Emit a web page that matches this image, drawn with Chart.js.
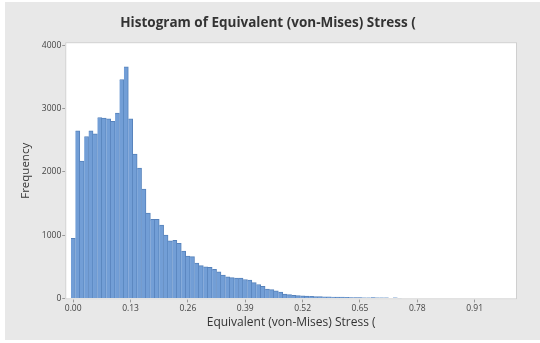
<!DOCTYPE html>
<html>
<head>
<meta charset="utf-8">
<script src="https://cdn.jsdelivr.net/npm/chart.js@4"></script>
<style>
    html, body { margin: 0; padding: 0; background: #ffffff; }
    #panel {
        position: absolute; left: 5px; top: 2px; width: 535px; height: 338px;
        background: #e8e8e8;
    }
    #wrap { position: absolute; left: 0; top: 0; width: 540px; height: 343px; }
</style>
</head>
<body>
<div id="panel"></div>
<div id="wrap"><canvas id="myChart" width="540" height="343"></canvas></div>
<script>

// bin midpoints (stress) and counts
const binMids = [
    0.00, 0.01, 0.02, 0.03, 0.04, 0.05, 0.06, 0.07, 0.08, 0.09,
    0.10, 0.11, 0.12, 0.13, 0.14, 0.15, 0.16, 0.17, 0.18, 0.19,
    0.20, 0.21, 0.22, 0.23, 0.24, 0.25, 0.26, 0.27, 0.28, 0.29,
    0.30, 0.31, 0.32, 0.33, 0.34, 0.35, 0.36, 0.37, 0.38, 0.39,
    0.40, 0.41, 0.42, 0.43, 0.44, 0.45, 0.46, 0.47, 0.48, 0.49,
    0.50, 0.51, 0.52, 0.53, 0.54, 0.55, 0.56, 0.57, 0.58, 0.59,
    0.60, 0.61, 0.62, 0.63, 0.64, 0.65, 0.66, 0.67, 0.68, 0.69,
    0.70, 0.71, 0.72, 0.73, 0.74
];

const frequency = [
    950, 2650, 2170, 2560, 2650, 2600, 2860, 2850, 2840, 2800,
    2930, 3460, 3660, 2840, 2280, 2060, 1730, 1350, 1250, 1250,
    1160, 1000, 910, 920, 870, 750, 670, 660, 560, 520,
    500, 490, 460, 420, 370, 340, 330, 320, 320, 300,
    290, 250, 220, 190, 150, 140, 120, 100, 70, 60,
    50, 45, 40, 38, 35, 30, 28, 25, 25, 22,
    20, 20, 18, 15, 15, 12, 10, 10, 12, 10,
    8, 10, 6, 8, 4
];

const xTicks = [0.00, 0.13, 0.26, 0.39, 0.52, 0.65, 0.78, 0.91];
const yTicks = [0, 1000, 2000, 3000, 4000];

const titleText = 'Histogram of Equivalent (von-Mises) Stress (';
const xTitle = 'Equivalent (von-Mises) Stress (';
const yTitle = 'Frequency';

// white plot area with a thin frame, like minitab
const plotFrame = {
    id: 'plotFrame',
    beforeDatasetsDraw(chart) {
        const {ctx, chartArea: a} = chart;
        ctx.save();
        ctx.fillStyle = '#ffffff';
        ctx.fillRect(a.left, a.top, a.right - a.left, a.bottom - a.top);
        ctx.restore();
    },
    afterDatasetsDraw(chart) {
        const {ctx, chartArea: a} = chart;
        ctx.save();
        ctx.strokeStyle = '#cfcfcf';
        ctx.lineWidth = 1;
        ctx.strokeRect(a.left + 0.5, a.top + 0.5, a.right - a.left - 1, a.bottom - a.top - 1);
        ctx.restore();
    }
};

const displayHistogram = () => {

    const points = binMids.map((m, i) => ({x: m, y: frequency[i]}));

    const config = {
        type: 'bar',
        data: {
            datasets: [{
                label: 'Frequency',
                data: points,
                backgroundColor: '#729ed6',
                borderColor: '#5682bb',
                borderWidth: {top: 1, right: 1, left: 0, bottom: 0},
                barPercentage: 1,
                categoryPercentage: 1
            }]
        },
        options: {
            responsive: false,
            animation: false,
            layout: {
                padding: {left: 19, right: 23, top: 0, bottom: 13}
            },
            plugins: {
                legend: {display: false},
                tooltip: {enabled: false},
                title: {
                    display: true,
                    text: titleText,
                    color: '#333333',
                    font: {family: 'Open Sans', size: 13.5, weight: 'bold'},
                    padding: {top: 15, bottom: 11}
                }
            },
            scales: {
                x: {
                    type: 'linear',
                    offset: false,
                    min: -0.018,
                    max: 1.006,
                    afterBuildTicks: (scale) => {
                        scale.ticks = xTicks.map(v => ({value: v}));
                    },
                    ticks: {
                        color: '#444444',
                        font: {family: 'Open Sans', size: 8.5},
                        padding: 1,
                        maxRotation: 0,
                        callback: (value) => value.toFixed(2)
                    },
                    grid: {drawOnChartArea: false, offset: false, tickLength: 3, color: '#9a9a9a'},
                    border: {display: false},
                    title: {
                        display: true,
                        text: xTitle,
                        color: '#333333',
                        font: {family: 'Open Sans', size: 12},
                        padding: {top: 1, bottom: 0}
                    }
                },
                y: {
                    min: -15,
                    max: 4050,
                    afterBuildTicks: (scale) => {
                        scale.ticks = yTicks.map(v => ({value: v}));
                    },
                    ticks: {
                        color: '#444444',
                        font: {family: 'Open Sans', size: 8.5},
                        padding: 1,
                        callback: (value) => String(value)
                    },
                    grid: {drawOnChartArea: false, tickLength: 3, color: '#9a9a9a'},
                    border: {display: false},
                    title: {
                        display: true,
                        text: yTitle,
                        color: '#333333',
                        font: {family: 'Open Sans', size: 11.5},
                        padding: {top: 0, bottom: 8}
                    }
                }
            }
        },
        plugins: [plotFrame]
    };

    const myChart = new Chart(
        document.getElementById('myChart'),
        config
    );
}

displayHistogram();
</script>
</body>
</html>
